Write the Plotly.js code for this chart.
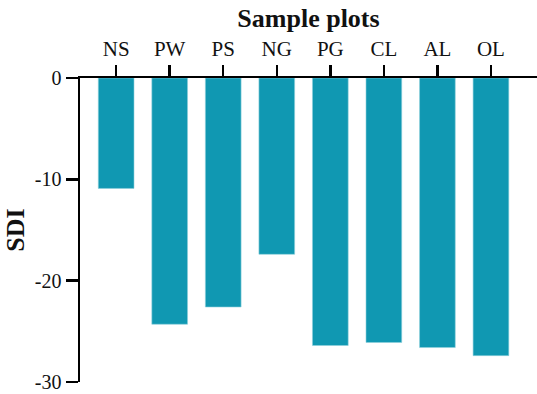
<!DOCTYPE html>
<html>
<head>
<meta charset="utf-8">
<script src="https://cdn.plot.ly/plotly-3.0.1.min.js"></script>
<style>html,body{margin:0;padding:0;background:#fff;}#chart{width:537px;height:394px;}</style>
</head>
<body>
<div id="chart"></div>
<script>
const categories = ['NS', 'PW', 'PS', 'NG', 'PG', 'CL', 'AL', 'OL'];
const sdiValues = [-10.9, -24.3, -22.6, -17.4, -26.4, -26.1, -26.6, -27.4];
const yTickVals = [0, -10, -20, -30];
const yTickText = ['0', '-10', '-20', '-30'];

const trace = {
  type: 'bar',
  x: categories,
  y: sdiValues,
  marker: {color: '#1098b2', line: {color: '#8fd0dc', width: 0.6}},
  hoverinfo: 'skip'
};

const font = '"Liberation Serif", "Times New Roman", serif';
const layout = {
  width: 537,
  height: 394,
  margin: {l: 80, r: 0, t: 78, b: 12, pad: 0},
  paper_bgcolor: '#fff',
  plot_bgcolor: '#fff',
  showlegend: false,
  bargap: 0.333,
  font: {family: font, color: '#111', size: 20},
  xaxis: {
    type: 'category',
    side: 'top',
    range: [-0.675, 7.86],
    showline: true,
    linecolor: '#000',
    linewidth: 2.5,
    ticks: 'outside',
    ticklen: 11,
    tickwidth: 2.5,
    tickcolor: '#000',
    showgrid: false,
    zeroline: false,
    tickfont: {family: font, size: 21, color: '#111'},
    title: {text: '<b>Sample plots</b>', font: {family: font, size: 26, color: '#111'}, standoff: 2}
  },
  yaxis: {
    range: [-30, 0],
    tickvals: yTickVals,
    ticktext: yTickText,
    showline: true,
    linecolor: '#000',
    linewidth: 2.5,
    ticks: 'outside',
    ticklen: 12,
    tickwidth: 2.5,
    tickcolor: '#000',
    showgrid: false,
    zeroline: false,
    tickfont: {family: font, size: 20, color: '#111'},
    title: {text: '<b>SDI</b>', font: {family: font, size: 26, color: '#111'}, standoff: 3}
  }
};

Plotly.newPlot('chart', [trace], layout, {displayModeBar: false, staticPlot: true});
</script>
</body>
</html>
